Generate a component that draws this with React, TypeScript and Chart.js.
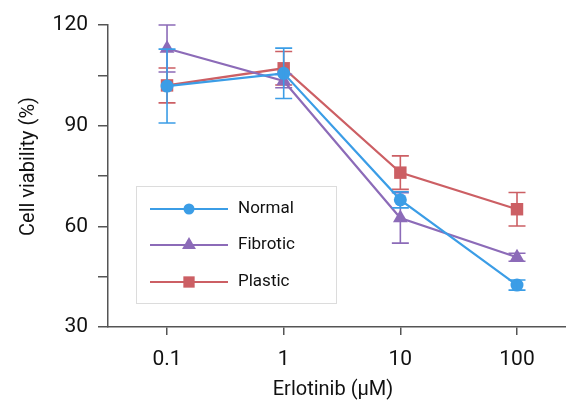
import React, { useEffect, useRef } from "react";
import { Chart, registerables } from "chart.js";

Chart.register(...registerables);

const concentrations = ["0.1", "1", "10", "100"];
const logDose = [-1, 0, 1, 2];

const seriesNames = ["Normal", "Fibrotic", "Plastic"];
const normalMean = [101.8, 105.6, 67.9, 42.5];
const normalErr = [11, 7.5, 2.4, 1.5];
const fibroticMean = [113, 103.3, 62.5, 50.8];
const fibroticErr = [7, 2, 7.5, 1.2];
const plasticMean = [102, 107.1, 76, 65.1];
const plasticErr = [5.2, 5, 5, 5];

const colors = ["#3b9de6", "#8c6bb8", "#cc5f64"];
const pointStyles = ["circle", "triangle", "rect"];
const pointRadii = [6.5, 8.5, 8.8];
const means = [normalMean, fibroticMean, plasticMean];
const errs = [normalErr, fibroticErr, plasticErr];

const yTickLabels = [30, 60, 90, 120];
const xTitle = "Erlotinib (μM)";
const yTitle = "Cell viability (%)";

const FONT = "Roboto, 'DejaVu Sans', sans-serif";

const errorBarPlugin = {
  id: "errorBars",
  afterDatasetDraw(chart: any, args: any) {
    const i = args.index;
    const ctx = chart.ctx;
    const xs = chart.scales.x;
    const ys = chart.scales.y;
    ctx.save();
    ctx.strokeStyle = colors[i];
    ctx.lineWidth = 1.6;
    const m = means[i];
    const e = errs[i];
    for (let k = 0; k < m.length; k++) {
      const x = xs.getPixelForValue(logDose[k]);
      const yt = ys.getPixelForValue(m[k] + e[k]);
      const yb = ys.getPixelForValue(m[k] - e[k]);
      ctx.beginPath();
      ctx.moveTo(x, yt);
      ctx.lineTo(x, yb);
      ctx.moveTo(x - 8.5, yt);
      ctx.lineTo(x + 8.5, yt);
      ctx.moveTo(x - 8.5, yb);
      ctx.lineTo(x + 8.5, yb);
      ctx.stroke();
    }
    ctx.restore();
  },
};

function drawMarker(ctx: CanvasRenderingContext2D, style: string, x: number, y: number, r: number, color: string) {
  ctx.fillStyle = color;
  ctx.beginPath();
  if (style === "circle") {
    ctx.arc(x, y, r, 0, Math.PI * 2);
  } else if (style === "triangle") {
    ctx.moveTo(x, y - r);
    ctx.lineTo(x + (Math.sqrt(3) / 2) * r, y + r / 2);
    ctx.lineTo(x - (Math.sqrt(3) / 2) * r, y + r / 2);
    ctx.closePath();
  } else {
    const s = r * Math.SQRT1_2;
    ctx.rect(x - s, y - s, 2 * s, 2 * s);
  }
  ctx.fill();
}

const legendAndTitlesPlugin = {
  id: "legendTitles",
  afterDraw(chart: any) {
    const ctx = chart.ctx;
    ctx.save();
    const bx = 136.5, by = 186.5, bw = 200, bh = 117;
    ctx.fillStyle = "#ffffff";
    ctx.fillRect(bx, by, bw, bh);
    ctx.strokeStyle = "#dcdcdc";
    ctx.lineWidth = 1;
    ctx.strokeRect(bx, by, bw, bh);
    const rows = [209, 245, 282];
    const legendRadii = [5.5, 8, 8];
    for (let i = 0; i < seriesNames.length; i++) {
      const y = rows[i];
      ctx.strokeStyle = colors[i];
      ctx.lineWidth = 2;
      ctx.beginPath();
      ctx.moveTo(150, y);
      ctx.lineTo(228, y);
      ctx.stroke();
      drawMarker(ctx, pointStyles[i], 189, y, legendRadii[i], colors[i]);
      ctx.fillStyle = "#111";
      ctx.font = `17px ${FONT}`;
      ctx.textAlign = "left";
      ctx.textBaseline = "middle";
      ctx.fillText(seriesNames[i], 238, y);
    }
    ctx.fillStyle = "#111";
    ctx.font = `20px ${FONT}`;
    ctx.textAlign = "center";
    ctx.textBaseline = "middle";
    ctx.fillText(xTitle, 333, 390);
    ctx.translate(29, 166.5);
    ctx.rotate(-Math.PI / 2);
    ctx.fillText(yTitle, 0, 0);
    ctx.restore();
  },
};

export default function App() {
  const canvasRef = useRef<HTMLCanvasElement | null>(null);

  useEffect(() => {
    document.body.style.margin = "0";
    const canvas = canvasRef.current;
    if (!canvas) return;
    const datasets = seriesNames.map((name, i) => ({
      label: name,
      data: means[i].map((v, k) => ({ x: logDose[k], y: v })),
      borderColor: colors[i],
      backgroundColor: colors[i],
      borderWidth: 2.2,
      pointStyle: pointStyles[i],
      pointRadius: pointRadii[i],
      pointBorderWidth: 0,
      pointBackgroundColor: colors[i],
      showLine: true,
      tension: 0,
    }));
    const chart = new Chart(canvas, {
      type: "scatter",
      data: { datasets: datasets as any },
      options: {
        animation: false,
        responsive: false,
        devicePixelRatio: 1,
        layout: { autoPadding: false, padding: { top: 25, left: 0, right: 0, bottom: 0 } },
        plugins: { legend: { display: false }, tooltip: { enabled: false } },
        scales: {
          x: {
            type: "linear",
            min: -1.506,
            max: 2.42,
            afterFit(scale: any) {
              scale.height = 76;
              scale.paddingLeft = 0;
              scale.paddingRight = 0;
            },
            afterBuildTicks(scale: any) {
              scale.ticks = logDose.map((v) => ({ value: v }));
            },
            ticks: {
              color: "#111",
              font: { size: 21, family: FONT },
              padding: 12,
              autoSkip: false,
              maxRotation: 0,
              callback: (v: any) => {
                const idx = logDose.indexOf(Number(v));
                return idx >= 0 ? concentrations[idx] : "";
              },
            },
            grid: { drawOnChartArea: false, tickLength: 8, color: "#555", lineWidth: 1.5 },
            border: { color: "#555", width: 1.5 },
          },
          y: {
            type: "linear",
            min: 30,
            max: 120,
            afterFit(scale: any) {
              scale.width = 108;
              scale.paddingTop = 0;
              scale.paddingBottom = 0;
            },
            ticks: {
              stepSize: 15,
              color: "#111",
              font: { size: 21, family: FONT },
              padding: 10,
              callback: (v: any) => (yTickLabels.includes(Number(v)) ? String(v) : ""),
            },
            grid: { drawOnChartArea: false, tickLength: 10, color: "#555", lineWidth: 1.5 },
            border: { color: "#555", width: 1.5 },
          },
        },
      },
      plugins: [errorBarPlugin, legendAndTitlesPlugin],
    });
    return () => chart.destroy();
  }, []);

  return (
    <div style={{ position: "fixed", left: 0, top: 0, width: 566, height: 403, background: "#fff" }}>
      <canvas ref={canvasRef} width={566} height={403} style={{ width: 566, height: 403 }} />
    </div>
  );
}
